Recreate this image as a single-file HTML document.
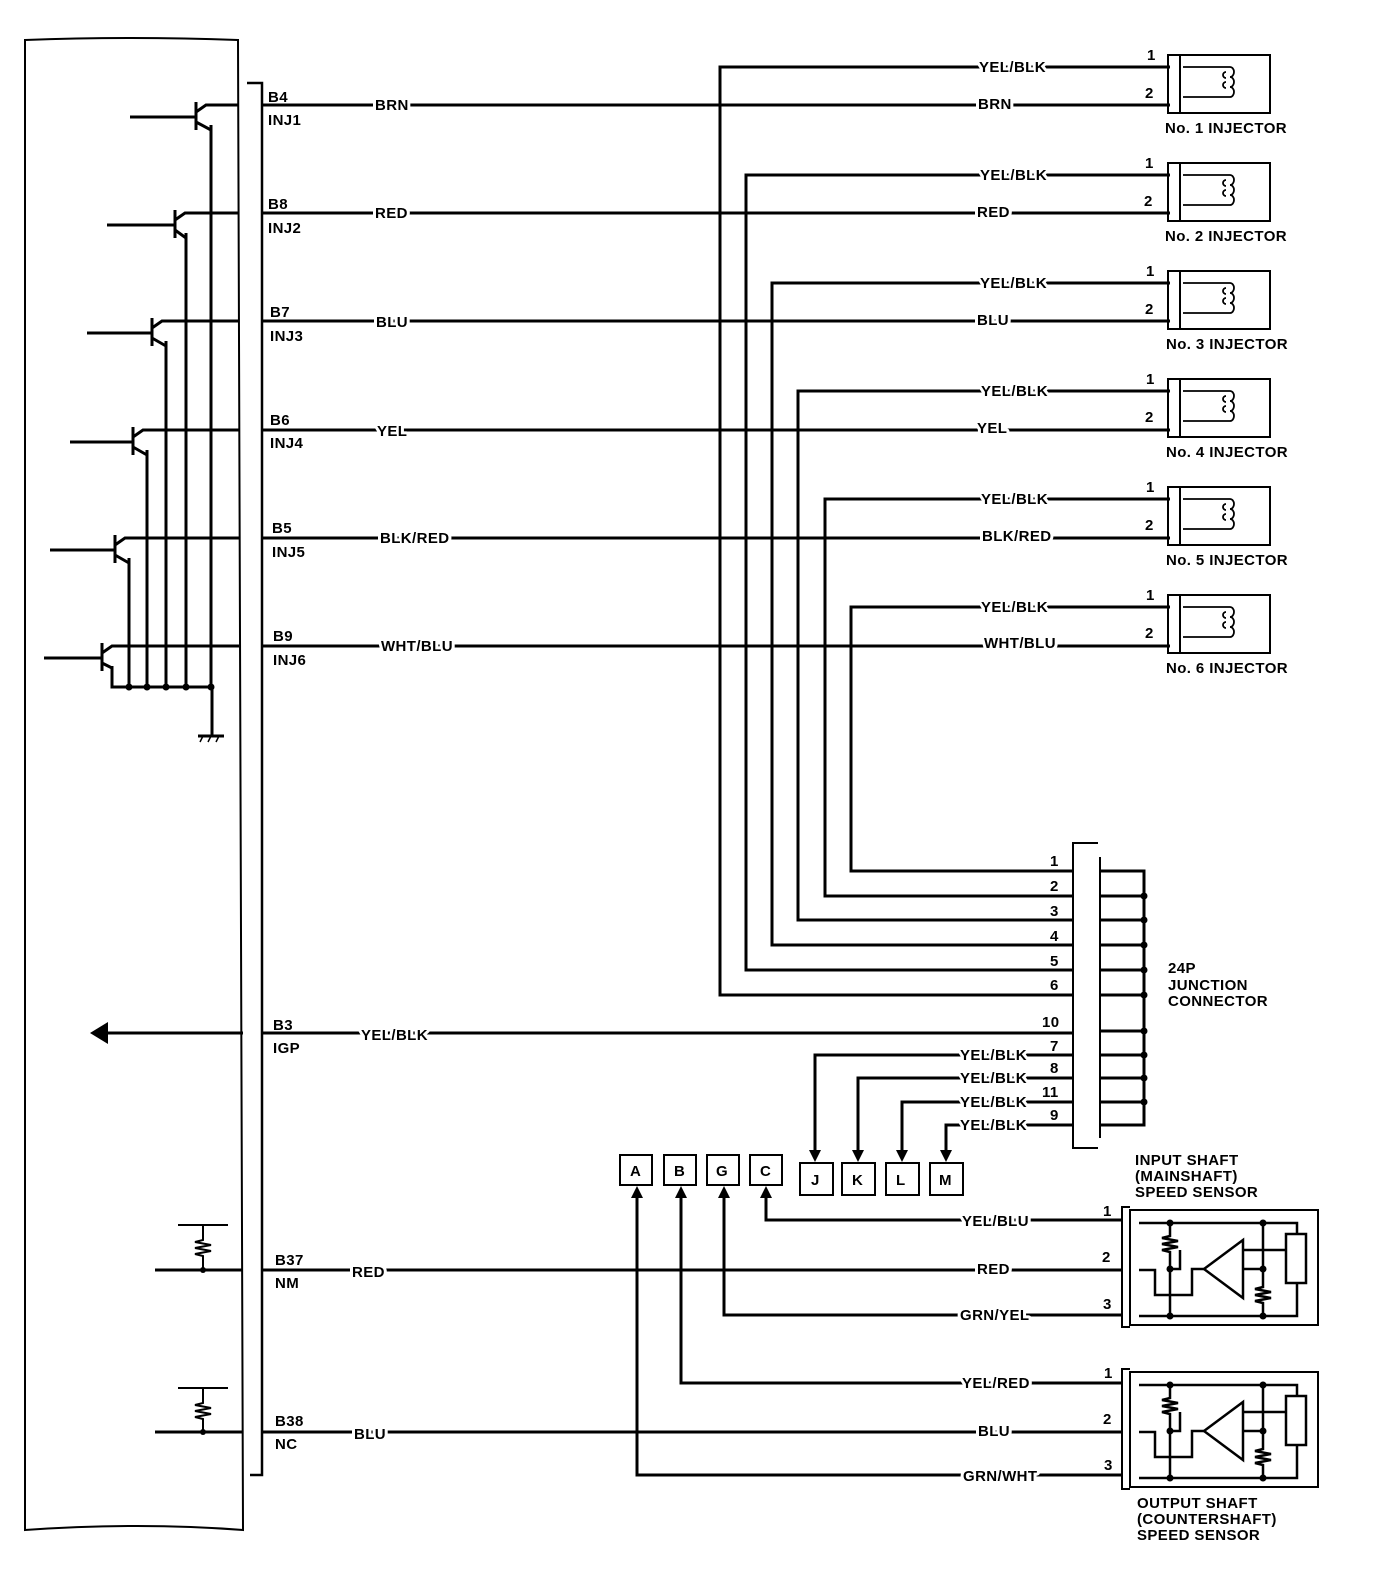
<!DOCTYPE html>
<html><head><meta charset="utf-8"><style>
body{margin:0;background:#fff}
svg{display:block}
text{font-family:"Liberation Sans",Arial,sans-serif;font-weight:bold;font-size:15px;letter-spacing:0.4px;fill:#000}
.h{stroke:#fff;stroke-width:6px;paint-order:stroke;stroke-linejoin:round}
</style></head><body>
<svg width="1392" height="1572" viewBox="0 0 1392 1572" xmlns="http://www.w3.org/2000/svg">
<g fill="none" stroke="#000" stroke-width="3">
<path d="M25 40 Q130 36 238 40 L243 1530 Q140 1522 25 1530 Z" stroke-width="2"/>
<path d="M247 83 H262 V1475 H250" stroke-width="2.5"/>
<path d="M211 125 V687 M186 233 V687 M166 341 V687 M147 450 V687 M129 558 V687 M112 666 V687 H212 V735"/>
<path d="M198 736 H224" stroke-width="3"/>
<path d="M203 736 l-3 6 M211 736 l-3 6 M219 736 l-3 6" stroke-width="1.5"/>
<g>
<path d="M130 117 H196 M196 102 V130 M196 112 L206 105 H239 M196 122 L211 130"/>
<path d="M107 225 H175 M175 210 V238 M175 220 L185 213 H239 M175 230 L186 238"/>
<path d="M87 333 H152 M152 318 V346 M152 328 L162 321 H239 M152 338 L166 346"/>
<path d="M70 442 H133 M133 427 V455 M133 437 L143 430 H239 M133 447 L147 455"/>
<path d="M50 550 H115 M115 535 V563 M115 545 L125 538 H239 M115 555 L129 563"/>
<path d="M44 658 H102 M102 643 V671 M102 653 L112 646 H239 M102 663 L112 668"/>
</g>
<path d="M262 105 H1170 M262 213 H1170 M262 321 H1170 M262 430 H1170 M262 538 H1170 M262 646 H1170"/>
<path d="M1170 67 H720 V995 H1073 M1170 175 H746 V970 H1073 M1170 283 H772 V945 H1073 M1170 391 H798 V920 H1073 M1170 499 H825 V896 H1073 M1170 607 H851 V871 H1073"/>
<g stroke-width="2">
<rect x="1168" y="55" width="12" height="58"/><rect x="1180" y="55" width="90" height="58"/>
<rect x="1168" y="163" width="12" height="58"/><rect x="1180" y="163" width="90" height="58"/>
<rect x="1168" y="271" width="12" height="58"/><rect x="1180" y="271" width="90" height="58"/>
<rect x="1168" y="379" width="12" height="58"/><rect x="1180" y="379" width="90" height="58"/>
<rect x="1168" y="487" width="12" height="58"/><rect x="1180" y="487" width="90" height="58"/>
<rect x="1168" y="595" width="12" height="58"/><rect x="1180" y="595" width="90" height="58"/>
</g>
<g stroke-width="1.8">
<path d="M1183 67 H1230 a4 5 0 0 1 0 10 a4 5 0 0 1 0 10 a4 5 0 0 1 0 10 M1230 97 H1183"/>
<path d="M1183 175 H1230 a4 5 0 0 1 0 10 a4 5 0 0 1 0 10 a4 5 0 0 1 0 10 M1230 205 H1183"/>
<path d="M1183 283 H1230 a4 5 0 0 1 0 10 a4 5 0 0 1 0 10 a4 5 0 0 1 0 10 M1230 313 H1183"/>
<path d="M1183 391 H1230 a4 5 0 0 1 0 10 a4 5 0 0 1 0 10 a4 5 0 0 1 0 10 M1230 421 H1183"/>
<path d="M1183 499 H1230 a4 5 0 0 1 0 10 a4 5 0 0 1 0 10 a4 5 0 0 1 0 10 M1230 529 H1183"/>
<path d="M1183 607 H1230 a4 5 0 0 1 0 10 a4 5 0 0 1 0 10 a4 5 0 0 1 0 10 M1230 637 H1183"/>
<path d="M1226 72 a3 3 0 0 0 0 6 M1226 82 a3 3 0 0 0 0 6 M1226 180 a3 3 0 0 0 0 6 M1226 190 a3 3 0 0 0 0 6 M1226 288 a3 3 0 0 0 0 6 M1226 298 a3 3 0 0 0 0 6 M1226 396 a3 3 0 0 0 0 6 M1226 406 a3 3 0 0 0 0 6 M1226 504 a3 3 0 0 0 0 6 M1226 514 a3 3 0 0 0 0 6 M1226 612 a3 3 0 0 0 0 6 M1226 622 a3 3 0 0 0 0 6"/>
</g>
<path d="M1098 843 H1073 V1148 H1098 M1100 857 V1138" stroke-width="2"/>
<path d="M1100 871 H1144 V1125 H1100 M1100 896 H1144 M1100 920 H1144 M1100 945 H1144 M1100 970 H1144 M1100 995 H1144 M1100 1031 H1144 M1100 1055 H1144 M1100 1078 H1144 M1100 1102 H1144"/>
<path d="M108 1033 H243 M262 1033 H1073"/>
<path d="M1073 1055 H815 V1150 M1073 1078 H858 V1150 M1073 1102 H902 V1150 M1073 1125 H946 V1150"/>
<g stroke-width="2">
<rect x="800" y="1163" width="33" height="32"/><rect x="842" y="1163" width="33" height="32"/><rect x="886" y="1163" width="33" height="32"/><rect x="930" y="1163" width="33" height="32"/>
<rect x="620" y="1155" width="32" height="30"/><rect x="664" y="1155" width="32" height="30"/><rect x="707" y="1155" width="32" height="30"/><rect x="750" y="1155" width="32" height="30"/>
</g>
<path d="M766 1196 V1220 H1122 M724 1196 V1315 H1122 M681 1196 V1383 H1122 M637 1196 V1475 H1122"/>
<path d="M262 1270 H1122 M262 1432 H1122 M155 1270 H243 M155 1432 H243"/>
<path d="M178 1225 H228 M203 1225 V1240 l-8 2 l16 3 l-16 3 l16 3 l-16 3 l8 2 V1270 M178 1388 H228 M203 1388 V1403 l-8 2 l16 3 l-16 3 l16 3 l-16 3 l8 2 V1432" stroke-width="2"/>
<g id="s1">
<path d="M1130 1207 H1122 V1327 H1130" stroke-width="2"/>
<rect x="1130" y="1210" width="188" height="115" stroke-width="2"/>
<g stroke-width="2.5">
<path d="M1139 1223 H1297 V1234 M1139 1316 H1297 V1283"/>
<rect x="1286" y="1234" width="20" height="49"/>
<path d="M1170 1223 V1236 l-8 2 l16 3 l-16 3 l16 3 l-16 3 l8 2 V1316"/>
<path d="M1263 1223 V1287 l-8 2 l16 3 l-16 3 l16 3 l-16 3 l8 2 V1316"/>
<path d="M1243 1240 V1298 L1204 1269 Z"/>
<path d="M1139 1270 H1155 V1295 H1192 V1269 H1204 M1243 1269 H1263 M1243 1250 H1286 M1180 1250 V1269 H1170"/>
</g>
</g>
<use href="#s1" transform="translate(0,162)"/>
</g>
<g fill="#000">
<path d="M90 1033 L108 1022 L108 1044 Z"/>
<path d="M809 1150 H821 L815 1162 Z M852 1150 H864 L858 1162 Z M896 1150 H908 L902 1162 Z M940 1150 H952 L946 1162 Z"/>
<path d="M631 1198 H643 L637 1186 Z M675 1198 H687 L681 1186 Z M718 1198 H730 L724 1186 Z M760 1198 H772 L766 1186 Z"/>
<circle cx="129" cy="687" r="3.5"/><circle cx="147" cy="687" r="3.5"/><circle cx="166" cy="687" r="3.5"/><circle cx="186" cy="687" r="3.5"/><circle cx="211" cy="687" r="3.5"/>
<circle cx="1144" cy="896" r="3.5"/><circle cx="1144" cy="920" r="3.5"/><circle cx="1144" cy="945" r="3.5"/><circle cx="1144" cy="970" r="3.5"/><circle cx="1144" cy="995" r="3.5"/><circle cx="1144" cy="1031" r="3.5"/><circle cx="1144" cy="1055" r="3.5"/><circle cx="1144" cy="1078" r="3.5"/><circle cx="1144" cy="1102" r="3.5"/>
<circle cx="203" cy="1270" r="3"/><circle cx="203" cy="1432" r="3"/>
<circle cx="1170" cy="1223" r="3.5"/><circle cx="1263" cy="1223" r="3.5"/><circle cx="1170" cy="1316" r="3.5"/><circle cx="1263" cy="1316" r="3.5"/><circle cx="1170" cy="1269" r="3.5"/><circle cx="1263" cy="1269" r="3.5"/>
<circle cx="1170" cy="1385" r="3.5"/><circle cx="1263" cy="1385" r="3.5"/><circle cx="1170" cy="1478" r="3.5"/><circle cx="1263" cy="1478" r="3.5"/><circle cx="1170" cy="1431" r="3.5"/><circle cx="1263" cy="1431" r="3.5"/>
</g>
<g>
<text x="268" y="102">B4</text><text x="268" y="125">INJ1</text>
<text x="268" y="209">B8</text><text x="268" y="233">INJ2</text>
<text x="270" y="317">B7</text><text x="270" y="341">INJ3</text>
<text x="270" y="425">B6</text><text x="270" y="448">INJ4</text>
<text x="272" y="533">B5</text><text x="272" y="557">INJ5</text>
<text x="273" y="641">B9</text><text x="273" y="665">INJ6</text>
<text x="273" y="1030">B3</text><text x="273" y="1053">IGP</text>
<text x="275" y="1265">B37</text><text x="275" y="1288">NM</text>
<text x="275" y="1426">B38</text><text x="275" y="1449">NC</text>
</g>
<g>
<text class="h" x="375" y="110">BRN</text><text class="h" x="978" y="109">BRN</text>
<text class="h" x="375" y="218">RED</text><text class="h" x="977" y="217">RED</text>
<text class="h" x="376" y="327">BLU</text><text class="h" x="977" y="325">BLU</text>
<text class="h" x="377" y="436">YEL</text><text class="h" x="977" y="433">YEL</text>
<text class="h" x="380" y="543">BLK/RED</text><text class="h" x="982" y="541">BLK/RED</text>
<text class="h" x="381" y="651">WHT/BLU</text><text class="h" x="984" y="648">WHT/BLU</text>
<text class="h" x="979" y="72">YEL/BLK</text><text class="h" x="980" y="180">YEL/BLK</text>
<text class="h" x="980" y="288">YEL/BLK</text><text class="h" x="981" y="396">YEL/BLK</text>
<text class="h" x="981" y="504">YEL/BLK</text><text class="h" x="981" y="612">YEL/BLK</text>
<text class="h" x="361" y="1040">YEL/BLK</text>
<text class="h" x="960" y="1060">YEL/BLK</text><text class="h" x="960" y="1083">YEL/BLK</text>
<text class="h" x="960" y="1107">YEL/BLK</text><text class="h" x="960" y="1130">YEL/BLK</text>
<text class="h" x="962" y="1226">YEL/BLU</text><text class="h" x="977" y="1274">RED</text>
<text class="h" x="960" y="1320">GRN/YEL</text>
<text class="h" x="962" y="1388">YEL/RED</text><text class="h" x="978" y="1436">BLU</text>
<text class="h" x="963" y="1481">GRN/WHT</text>
<text class="h" x="352" y="1277">RED</text><text class="h" x="354" y="1439">BLU</text>
</g>
<g>
<text x="1147" y="60">1</text><text x="1145" y="98">2</text>
<text x="1145" y="168">1</text><text x="1144" y="206">2</text>
<text x="1146" y="276">1</text><text x="1145" y="314">2</text>
<text x="1146" y="384">1</text><text x="1145" y="422">2</text>
<text x="1146" y="492">1</text><text x="1145" y="530">2</text>
<text x="1146" y="600">1</text><text x="1145" y="638">2</text>
<text x="1165" y="133">No. 1 INJECTOR</text><text x="1165" y="241">No. 2 INJECTOR</text>
<text x="1166" y="349">No. 3 INJECTOR</text><text x="1166" y="457">No. 4 INJECTOR</text>
<text x="1166" y="565">No. 5 INJECTOR</text><text x="1166" y="673">No. 6 INJECTOR</text>
<text x="1050" y="866">1</text><text x="1050" y="891">2</text><text x="1050" y="916">3</text><text x="1050" y="941">4</text><text x="1050" y="966">5</text><text x="1050" y="990">6</text>
<text x="1042" y="1027">10</text><text x="1050" y="1051">7</text><text x="1050" y="1073">8</text><text x="1042" y="1097">11</text><text x="1050" y="1120">9</text>
<text x="1168" y="973">24P</text><text x="1168" y="990">JUNCTION</text><text x="1168" y="1006">CONNECTOR</text>
<text x="1135" y="1165">INPUT SHAFT</text><text x="1135" y="1181">(MAINSHAFT)</text><text x="1135" y="1197">SPEED SENSOR</text>
<text x="1137" y="1508">OUTPUT SHAFT</text><text x="1137" y="1524">(COUNTERSHAFT)</text><text x="1137" y="1540">SPEED SENSOR</text>
<text x="1103" y="1216">1</text><text x="1102" y="1262">2</text><text x="1103" y="1309">3</text>
<text x="1104" y="1378">1</text><text x="1103" y="1424">2</text><text x="1104" y="1470">3</text>
<text x="630" y="1176">A</text><text x="674" y="1176">B</text><text x="716" y="1176">G</text><text x="760" y="1176">C</text>
<text x="811" y="1185">J</text><text x="852" y="1185">K</text><text x="896" y="1185">L</text><text x="939" y="1185">M</text>
</g>
</svg>
</body></html>
